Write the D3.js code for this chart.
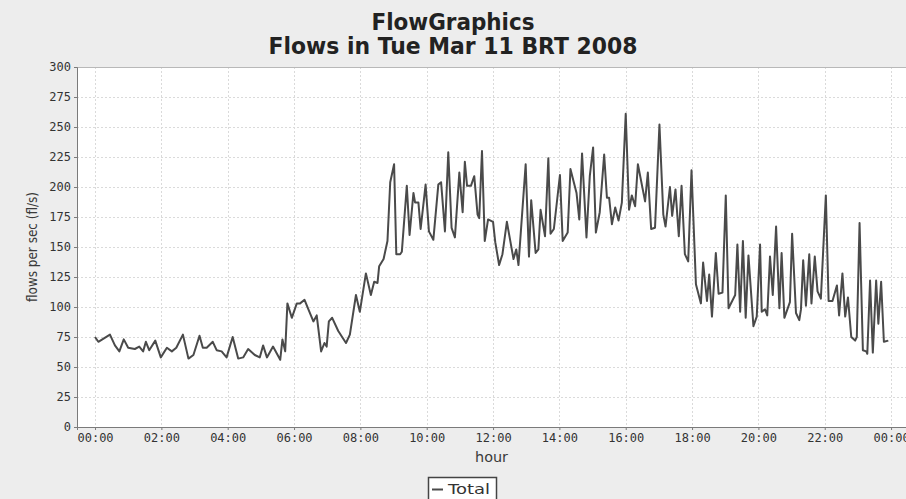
<!DOCTYPE html>
<html>
<head>
<meta charset="utf-8">
<script src="https://cdn.jsdelivr.net/npm/d3@7/dist/d3.min.js"></script>
<style>
  body { margin: 0; background: #ededed; }
  svg { display: block; }
</style>
</head>
<body>
<svg id="chart" width="906" height="499"></svg>
<script>
// samples (time of day, flows per second)
const times = [
  "00:00","00:06","00:27","00:36","00:44","00:52","01:00","01:12","01:20","01:27","01:32","01:38","01:49","01:59",
  "02:10","02:19","02:27","02:39","02:49","02:58","03:09","03:15","03:22","03:33","03:40","03:49","03:58",
  "04:09","04:19","04:28","04:37","04:49","04:58","05:04","05:11","05:22","05:35","05:39","05:44","05:48","05:56",
  "06:05","06:11","06:19","06:26","06:35","06:41","06:49","06:55","06:59","07:03","07:09","07:20","07:34","07:41","07:52","07:59",
  "08:10","08:19","08:25","08:31","08:34","08:42","08:49","08:54","09:01","09:05","09:12","09:15","09:24","09:29","09:36","09:39","09:45","09:49","09:58",
  "10:04","10:12","10:21","10:26","10:33","10:39","10:45","10:51","10:59","11:05","11:09","11:13","11:20","11:26","11:32","11:35","11:40","11:45","11:51",
  "12:00","12:04","12:11","12:17","12:25","12:37","12:42","12:46","12:59","13:05","13:09","13:17","13:22","13:26","13:34","13:40","13:44","13:50",
  "14:01","14:06","14:15","14:20","14:31","14:36","14:41","14:49","14:55","15:01","15:06","15:13","15:21","15:26","15:30","15:35","15:41","15:47","15:53",
  "16:00","16:06","16:11","16:17","16:22","16:35","16:40","16:46","16:53","17:01","17:08","17:12","17:20","17:24","17:30","17:36","17:41","17:47","17:53","17:59",
  "18:07","18:16","18:20","18:27","18:31","18:36","18:43","18:48","18:55","19:01","19:06","19:18","19:22","19:27","19:32","19:37","19:42","19:51","19:57",
  "20:03","20:06","20:12","20:16","20:21","20:26","20:32","20:38","20:42","20:47","20:57","21:01","21:08","21:14","21:17","21:21","21:26","21:32","21:36","21:42","21:47","21:53",
  "22:02","22:07","22:14","22:22","22:26","22:32","22:37","22:42","22:48","22:55","22:58","23:03","23:09","23:15","23:17","23:22","23:27","23:33","23:37","23:42","23:47","23:55"
];
const flows = [
  75,71,77,68,63,73,66,65,67,63,71,64,72,58,
  66,63,66,77,57,60,76,66,66,71,64,63,58,
  75,57,58,65,60,58,68,58,67,56,73,63,103,91,
  103,103,106,98,88,93,63,70,67,88,91,80,70,77,110,96,
  128,110,121,120,134,140,155,204,219,144,144,146,201,160,195,187,187,165,202,
  163,156,202,204,163,229,166,158,212,179,221,201,201,209,177,174,230,155,173,
  171,154,135,144,171,140,148,135,219,142,189,145,148,181,159,224,161,165,
  210,155,162,215,195,173,228,158,209,233,162,179,227,191,191,169,183,172,187,
  261,181,193,184,219,188,212,165,166,252,177,167,200,176,198,159,201,144,138,214,
  119,103,137,105,127,92,145,111,112,193,99,110,152,96,155,91,143,84,92,
  152,96,98,93,142,110,167,99,145,91,104,161,95,89,98,139,101,144,103,142,113,107,
  193,105,105,118,93,128,92,108,75,72,75,170,64,63,61,122,62,122,86,121,71,72
];
const yTicks = d3.range(0, 301, 25);
const day = new Date(2008, 2, 11, 0, 0);
const titleLines = ["FlowGraphics", "Flows in Tue Mar 11 BRT 2008"];
const seriesName = "Total";

const svg = d3.select("#chart");
const W = 906, H = 499;
const plot = { left: 77, right: 906, top: 67, bottom: 427 };

svg.append("rect").attr("width", W).attr("height", H).attr("fill", "#ededed");

const parse = s => {
  const [h, m] = s.split(":").map(Number);
  return new Date(day.getTime() + (h * 60 + m) * 60000);
};
const data = times.map((t, i) => ({ t: parse(t), v: flows[i] }));

// x domain has a small margin on each side, like the original auto range
const x = d3.scaleTime()
  .domain([new Date(day.getTime() - 32.6 * 60000), new Date(day.getTime() + 1467 * 60000)])
  .range([plot.left, plot.right]);
const y = d3.scaleLinear().domain([0, 300]).range([plot.bottom, plot.top]);

const xTicks = d3.timeHour.every(2).range(day, new Date(day.getTime() + 24 * 3600000 + 1));

// plot background
svg.append("rect")
  .attr("x", plot.left).attr("y", plot.top)
  .attr("width", plot.right - plot.left).attr("height", plot.bottom - plot.top)
  .attr("fill", "#ffffff");

// grid
const grid = svg.append("g").attr("stroke", "#dadada").attr("stroke-dasharray", "2,2").attr("stroke-width", 1);
grid.selectAll(".gy").data(yTicks.filter(d => d > 0)).enter().append("line")
  .attr("x1", plot.left).attr("x2", plot.right)
  .attr("y1", d => Math.round(y(d)) + 0.5).attr("y2", d => Math.round(y(d)) + 0.5);
grid.selectAll(".gx").data(xTicks).enter().append("line")
  .attr("y1", plot.top).attr("y2", plot.bottom)
  .attr("x1", d => Math.round(x(d)) + 0.5).attr("x2", d => Math.round(x(d)) + 0.5);

// plot outline
svg.append("rect")
  .attr("x", plot.left + 0.5).attr("y", plot.top + 0.5)
  .attr("width", plot.right - plot.left).attr("height", plot.bottom - plot.top)
  .attr("fill", "none").attr("stroke", "#b8b8b8");

// line
const line = d3.line().x(d => x(d.t)).y(d => y(d.v));
svg.append("path")
  .datum(data)
  .attr("d", line)
  .attr("fill", "none")
  .attr("stroke", "#4a4a4a")
  .attr("stroke-width", 2)
  .attr("stroke-linejoin", "round");

// axes
const tickFont = "'DejaVu Sans Mono', monospace";
const yAxis = svg.append("g")
  .attr("transform", `translate(${plot.left},0)`)
  .call(d3.axisLeft(y).tickValues(yTicks).tickSize(3).tickPadding(3));
const xAxis = svg.append("g")
  .attr("transform", `translate(0,${plot.bottom})`)
  .call(d3.axisBottom(x).tickValues(xTicks).tickFormat(d3.timeFormat("%H:%M")).tickSize(3).tickPadding(3));

[yAxis, xAxis].forEach(g => {
  g.select(".domain").attr("stroke", "#7a7a7a");
  g.selectAll(".tick line").attr("stroke", "#7a7a7a");
  g.selectAll(".tick text")
    .attr("fill", "#333")
    .style("font-family", tickFont)
    .style("font-size", "12px");
});

// axis labels
svg.append("text")
  .attr("transform", `translate(37,${(plot.top + plot.bottom) / 2}) rotate(-90)`)
  .attr("text-anchor", "middle")
  .attr("fill", "#3a3a3a")
  .style("font-family", "'DejaVu Sans', sans-serif")
  .style("font-size", "14px")
  .attr("textLength", 110).attr("lengthAdjust", "spacingAndGlyphs")
  .text("flows per sec (fl/s)");

svg.append("text")
  .attr("x", (plot.left + plot.right) / 2).attr("y", 462)
  .attr("text-anchor", "middle")
  .attr("fill", "#3a3a3a")
  .style("font-family", "'DejaVu Sans', sans-serif")
  .style("font-size", "14px")
  .attr("textLength", 33).attr("lengthAdjust", "spacingAndGlyphs")
  .text("hour");

// titles
svg.selectAll(".title").data(titleLines).enter().append("text")
  .attr("x", W / 2)
  .attr("y", (d, i) => 30 + i * 24)
  .attr("text-anchor", "middle")
  .attr("fill", "#222")
  .style("font-family", "'DejaVu Sans', sans-serif")
  .style("font-weight", "bold")
  .style("font-size", "23px")
  .attr("textLength", (d, i) => i === 0 ? 163 : 369)
  .attr("lengthAdjust", "spacingAndGlyphs")
  .text(d => d);

// legend
const legend = svg.append("g").attr("transform", "translate(428,477)");
legend.append("rect")
  .attr("x", 0.5).attr("y", 0.5).attr("width", 68).attr("height", 24)
  .attr("fill", "#fff").attr("stroke", "#444").attr("stroke-width", 1.5);
legend.append("line")
  .attr("x1", 4).attr("x2", 15).attr("y1", 12.5).attr("y2", 12.5)
  .attr("stroke", "#4a4a4a").attr("stroke-width", 2);
legend.append("text")
  .attr("x", 20).attr("y", 17)
  .attr("fill", "#333")
  .style("font-family", "'DejaVu Sans', sans-serif")
  .style("font-size", "14px")
  .attr("textLength", 42).attr("lengthAdjust", "spacingAndGlyphs")
  .text(seriesName);
</script>
</body>
</html>
